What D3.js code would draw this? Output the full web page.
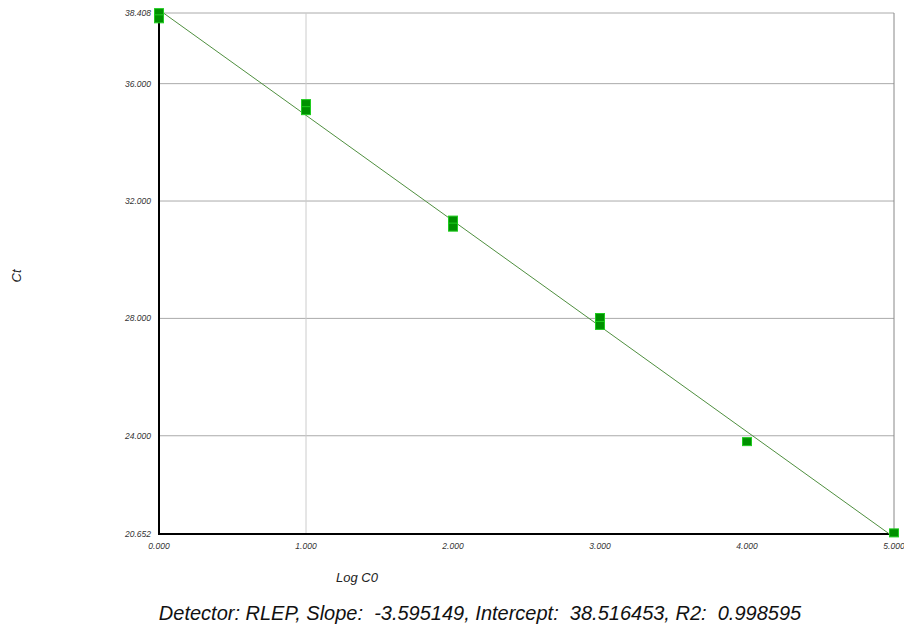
<!DOCTYPE html>
<html>
<head>
<meta charset="UTF-8">
<script src="https://d3js.org/d3.v7.min.js"></script>
<style>
  body { margin: 0; background: #fff; }
  text { font-family: "Liberation Sans", Arial, sans-serif; font-style: italic; }
</style>
</head>
<body>
<div id="chart"></div>
<script>
// standard curve points (log quantity vs Ct)
var logC0 = [0, 0, 1, 1, 2, 2, 3, 3, 4, 5];
var ct = [38.42, 38.21, 35.32, 35.08, 31.35, 31.11, 28.03, 27.76, 23.80, 20.69];
var yTicks = [20.652, 24, 28, 32, 36, 38.408];
var xTicks = [0, 1, 2, 3, 4, 5];
var xGrid = [1];
var slope = -3.595149, intercept = 38.516453, r2 = 0.998595;

var width = 904, height = 630;
var pL = 159, pR = 894, pT = 13, pB = 534;

var svg = d3.select("#chart").append("svg")
  .attr("width", width).attr("height", height);

var x = d3.scaleLinear().domain([0, 5]).range([pL, pR]);
var y = d3.scaleLinear().domain([20.652, 38.408]).range([pB, pT]);

// grid
svg.selectAll(".hg").data(yTicks).enter().append("line")
  .attr("x1", pL).attr("x2", pR)
  .attr("y1", d => y(d)).attr("y2", d => y(d))
  .attr("stroke", "#aaa").attr("stroke-width", 1);
svg.selectAll(".vg").data(xGrid).enter().append("line")
  .attr("x1", d => x(d)).attr("x2", d => x(d))
  .attr("y1", pT).attr("y2", pB)
  .attr("stroke", "#ccc").attr("stroke-width", 1);
// right border
svg.append("line").attr("x1", pR).attr("x2", pR)
  .attr("y1", pT).attr("y2", pB).attr("stroke", "#888");

// axes
svg.append("line").attr("x1", pL).attr("x2", pL)
  .attr("y1", pT).attr("y2", pB).attr("stroke", "#000").attr("stroke-width", 2);
svg.append("line").attr("x1", pL - 1).attr("x2", pR)
  .attr("y1", pB).attr("y2", pB).attr("stroke", "#000").attr("stroke-width", 2);

svg.selectAll(".yl").data(yTicks).enter().append("text")
  .attr("x", pL - 8).attr("y", d => y(d) + 3)
  .attr("text-anchor", "end").attr("font-size", 8.5).attr("fill", "#333")
  .text(d => d3.format(".3f")(d));
svg.selectAll(".xl").data(xTicks).enter().append("text")
  .attr("x", d => x(d)).attr("y", pB + 15)
  .attr("text-anchor", "middle").attr("font-size", 8.5).attr("fill", "#333")
  .text(d => d3.format(".3f")(d));

// regression line
svg.append("clipPath").attr("id", "clip").append("rect")
  .attr("x", pL).attr("y", pT).attr("width", pR - pL).attr("height", pB - pT);
svg.append("line").attr("clip-path", "url(#clip)")
  .attr("x1", x(0)).attr("y1", y(intercept))
  .attr("x2", x(5)).attr("y2", y(intercept + slope * 5))
  .attr("stroke", "#4f8f3f").attr("stroke-width", 1);

// points
var s = 9;
svg.selectAll(".pt").data(logC0).enter().append("rect")
  .attr("x", d => x(d) - s / 2).attr("y", (d, i) => y(ct[i]) - s / 2 + 0.5)
  .attr("width", s).attr("height", s - 1)
  .attr("fill", "#009000").attr("stroke", "#1fcc1f").attr("stroke-width", 1);

// labels
svg.append("text").attr("x", 357).attr("y", 582)
  .attr("text-anchor", "middle").attr("font-size", 13).attr("fill", "#222")
  .text("Log C0");
svg.append("text").attr("transform", "translate(21,276) rotate(-90)")
  .attr("text-anchor", "middle").attr("font-size", 13).attr("fill", "#222")
  .text("Ct");
svg.append("text").attr("x", 480).attr("y", 620)
  .attr("text-anchor", "middle").attr("font-size", 20).attr("fill", "#111")
  .attr("xml:space", "preserve")
  .text("Detector: RLEP, Slope:  " + slope.toFixed(6) + ", Intercept:  " + intercept.toFixed(6) + ", R2:  " + r2.toFixed(6));
</script>
</body>
</html>
